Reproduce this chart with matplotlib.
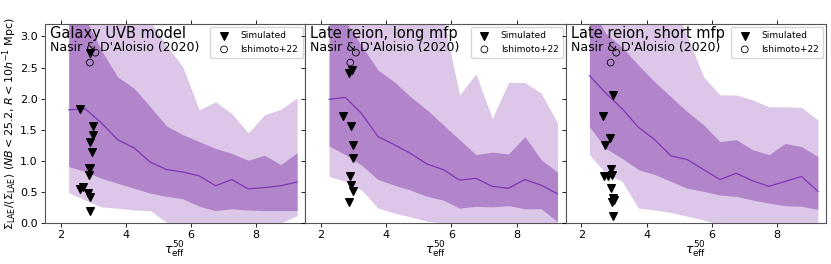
import matplotlib.pyplot as plt
import numpy as np

# tau_eff^50 bin centres
tau = [2.25, 2.75, 3.25, 3.75, 4.25, 4.75, 5.25, 5.75, 6.25, 6.75, 7.25, 7.75, 8.25, 8.75, 9.25]

titles = ["Galaxy UVB model", "Late reion, long mfp", "Late reion, short mfp"]

# median and percentile bands, one list per panel
median = [
    [1.82, 1.84, 1.61, 1.34, 1.21, 0.98, 0.86, 0.82, 0.76, 0.60, 0.70, 0.55, 0.57, 0.60, 0.66],
    [1.99, 2.02, 1.76, 1.39, 1.26, 1.12, 0.95, 0.86, 0.69, 0.72, 0.59, 0.56, 0.70, 0.61, 0.47],
    [2.37, 2.09, 1.84, 1.54, 1.34, 1.08, 1.02, 0.86, 0.70, 0.80, 0.68, 0.59, 0.67, 0.75, 0.51],
]
dark_hi = [
    [3.60, 3.30, 2.78, 2.35, 2.17, 1.87, 1.56, 1.42, 1.31, 1.20, 1.12, 1.01, 1.09, 0.94, 1.13],
    [3.60, 3.25, 2.85, 2.46, 2.27, 2.03, 1.82, 1.58, 1.34, 1.10, 1.14, 1.11, 1.39, 1.02, 0.82],
    [3.50, 3.05, 2.83, 2.54, 2.27, 2.03, 1.79, 1.58, 1.31, 1.34, 1.18, 1.10, 1.28, 1.23, 1.07],
]
dark_lo = [
    [0.91, 0.83, 0.72, 0.64, 0.56, 0.48, 0.43, 0.39, 0.27, 0.20, 0.23, 0.21, 0.20, 0.20, 0.20],
    [1.24, 1.10, 0.93, 0.70, 0.61, 0.53, 0.43, 0.37, 0.24, 0.27, 0.26, 0.28, 0.23, 0.23, 0.02],
    [1.55, 1.20, 1.04, 0.86, 0.78, 0.67, 0.56, 0.51, 0.45, 0.43, 0.37, 0.32, 0.28, 0.27, 0.22],
]
light_hi = [
    [4.00, 4.00, 4.00, 3.80, 3.50, 3.25, 2.85, 2.51, 1.82, 1.95, 1.76, 1.45, 1.74, 1.83, 2.01],
    [4.00, 4.00, 4.00, 4.00, 3.80, 3.60, 3.40, 3.30, 2.06, 2.40, 1.68, 2.26, 2.26, 2.09, 1.61],
    [4.00, 4.00, 4.00, 4.00, 3.80, 3.60, 3.00, 2.35, 2.06, 2.06, 1.98, 1.87, 1.87, 1.86, 1.66],
]
light_lo = [
    [0.49, 0.37, 0.26, 0.24, 0.21, 0.20, 0.01, -0.05, -0.10, -0.10, -0.10, -0.10, -0.05, 0.00, 0.12],
    [0.75, 0.67, 0.53, 0.24, 0.16, 0.10, 0.03, 0.00, -0.05, -0.10, -0.10, -0.10, -0.05, -0.05, 0.00],
    [1.10, 0.80, 0.67, 0.24, 0.21, 0.17, 0.11, 0.05, -0.02, -0.10, -0.10, -0.10, -0.10, -0.10, -0.05],
]

# simulated sightlines (triangles)
sim_x = [
    [2.61, 2.99, 2.99, 2.89, 2.96, 2.88, 2.90, 2.88, 2.69, 2.59, 2.85, 2.90, 2.89, 2.90],
    [2.85, 2.96, 2.68, 2.91, 2.98, 2.98, 2.89, 2.93, 2.98, 2.87],
    [2.97, 2.68, 2.88, 2.73, 2.92, 2.71, 2.82, 2.95, 2.90, 2.97, 2.94, 3.00, 2.98],
]
sim_y = [
    [1.83, 1.56, 1.41, 1.31, 1.14, 0.88, 0.89, 0.77, 0.58, 0.54, 0.49, 0.42, 0.19, 2.73],
    [2.41, 2.46, 1.72, 1.56, 1.26, 1.04, 0.76, 0.61, 0.51, 0.34],
    [2.06, 1.72, 1.37, 1.25, 0.87, 0.76, 0.76, 0.78, 0.56, 0.40, 0.34, 0.37, 0.12],
]

# Ishimoto+22 observations
obs_x = [2.90, 3.07]
obs_y = [2.58, 2.74]

light_col = '#dcc7e8'
dark_col = '#b285cb'
line_col = '#7f35b5'

fig, axes = plt.subplots(1, 3, figsize=(8.31, 2.64), dpi=100, sharey=True)
fig.subplots_adjust(left=0.054, right=0.994, top=0.909, bottom=0.155, wspace=0)

for i, ax in enumerate(axes):
    ax.fill_between(tau, light_lo[i], light_hi[i], color=light_col, lw=0)
    ax.fill_between(tau, dark_lo[i], dark_hi[i], color=dark_col, lw=0)
    ax.plot(tau, median[i], color=line_col, lw=0.9)
    ax.scatter(sim_x[i], sim_y[i], marker='v', s=30, color='black', zorder=3, label='Simulated')
    ax.scatter(obs_x, obs_y, marker='o', s=24, facecolor='none', edgecolor='black',
               linewidths=0.6, zorder=3, label='Ishimoto+22')
    ax.set_xlim(1.52, 9.5)
    ax.set_ylim(0, 3.2)
    ax.set_xticks([2, 4, 6, 8])
    ax.set_yticks([0.0, 0.5, 1.0, 1.5, 2.0, 2.5, 3.0])
    ax.tick_params(top=True, labelsize=8, length=3, width=0.6, pad=2)
    for s in ax.spines.values():
        s.set_color('#555555')
    ax.set_xlabel(r'$\tau_{\rm eff}^{50}$', fontsize=9, labelpad=0)
    ax.text(0.02, 0.99, titles[i], transform=ax.transAxes, va='top', ha='left', fontsize=10.5)
    ax.text(0.02, 0.915, "Nasir & D'Aloisio (2020)", transform=ax.transAxes, va='top', ha='left',
            fontsize=9)
    ax.legend(loc='upper right', fontsize=6.5, borderaxespad=0.3, handletextpad=0.8,
              borderpad=0.5, labelspacing=0.5)

axes[0].set_ylabel(r'$\Sigma_{\rm LAE}/\langle\Sigma_{\rm LAE}\rangle\ (NB<25.2,\,R<10h^{-1}\ {\rm Mpc})$',
                   fontsize=8, labelpad=1)

plt.savefig('out.png', dpi=100)
